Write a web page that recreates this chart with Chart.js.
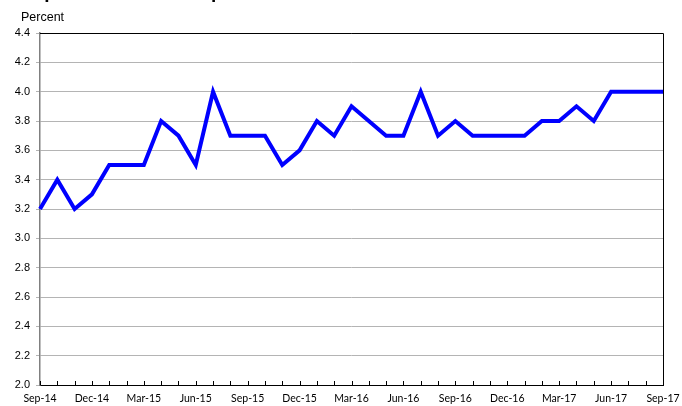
<!DOCTYPE html>
<html lang="en">
<head>
  <meta charset="UTF-8" />
  <title>September 2014 – September 2017</title>
  <script src="https://cdn.jsdelivr.net/npm/chart.js"></script>
  <style>
    html, body { margin: 0; padding: 0; background: #fff; overflow: hidden; }
    .wrap { position: relative; width: 682px; height: 406px; }
    .title {
      position: absolute; left: 21px; top: -19px;
      font: bold 19px "Liberation Sans", Arial, sans-serif; line-height: 22px;
      color: #000; white-space: nowrap;
    }
    .unit {
      position: absolute; left: 21px; top: 10px;
      font: 12.5px "Liberation Sans", Arial, sans-serif; color: #000;
    }
    canvas { position: absolute; left: 0; top: 0; }
  </style>
</head>
<body>
  <div class="wrap">
    <canvas id="rateChart" width="682" height="406"></canvas>
    <div class="title">September 2014 – September 2017</div>
    <div class="unit">Percent</div>
  </div>

  <script>
    // Monthly observations, Sep-14 to Sep-17
    const months = [
      "Sep-14","Oct-14","Nov-14","Dec-14","Jan-15","Feb-15","Mar-15","Apr-15","May-15",
      "Jun-15","Jul-15","Aug-15","Sep-15","Oct-15","Nov-15","Dec-15","Jan-16","Feb-16",
      "Mar-16","Apr-16","May-16","Jun-16","Jul-16","Aug-16","Sep-16","Oct-16","Nov-16",
      "Dec-16","Jan-17","Feb-17","Mar-17","Apr-17","May-17","Jun-17","Jul-17","Aug-17",
      "Sep-17"
    ];

    const percent = [
      3.2, 3.4, 3.2, 3.3, 3.5, 3.5, 3.5, 3.8, 3.7,
      3.5, 4.0, 3.7, 3.7, 3.7, 3.5, 3.6, 3.8, 3.7,
      3.9, 3.8, 3.7, 3.7, 4.0, 3.7, 3.8, 3.7, 3.7,
      3.7, 3.7, 3.8, 3.8, 3.9, 3.8, 4.0, 4.0, 4.0,
      4.0
    ];

    // only every third month gets a label
    const labelEvery = 3;

    // frame on top/right plus small inward ticks on the x axis
    const frame = {
      id: "frame",
      afterDraw(chart) {
        const { ctx, chartArea: a } = chart;
        const x = chart.scales.x;
        ctx.save();
        ctx.strokeStyle = "#000";
        ctx.lineWidth = 1;
        ctx.beginPath();
        ctx.moveTo(a.left, a.top + 0.5);
        ctx.lineTo(a.right + 0.5, a.top + 0.5);
        ctx.lineTo(a.right + 0.5, a.bottom);
        ctx.stroke();
        ctx.beginPath();
        months.forEach((m, i) => {
          const px = Math.round(x.getPixelForValue(i)) + 0.5;
          ctx.moveTo(px, a.bottom);
          ctx.lineTo(px, a.bottom - 4);
        });
        ctx.stroke();
        ctx.restore();
      }
    };

    new Chart(document.getElementById("rateChart"), {
      type: "line",
      data: {
        labels: months,
        datasets: [{
          data: percent,
          borderColor: "#0000ff",
          borderWidth: 4,
          pointRadius: 0,
          tension: 0,
          fill: false
        }]
      },
      options: {
        responsive: false,
        animation: false,
        devicePixelRatio: 1,
        layout: { padding: { top: 33, right: 19, left: 0, bottom: 0 } },
        plugins: {
          legend: { display: false },
          tooltip: { enabled: false }
        },
        scales: {
          x: {
            offset: false,
            afterFit: s => { s.height = 21; s.paddingLeft = 0; s.paddingRight = 0; },
            grid: { display: false, drawTicks: false },
            border: { color: "#000", width: 1 },
            ticks: {
              autoSkip: false,
              maxRotation: 0,
              padding: 7,
              color: "#000",
              font: { family: "Lato", size: 10.5 },
              callback: (v, i) => (i % labelEvery === 0 ? months[i] : "")
            }
          },
          y: {
            min: 2.0,
            max: 4.4,
            afterFit: s => { s.width = 40; s.paddingTop = 0; s.paddingBottom = 0; },
            border: { color: "#808080", width: 1.5 },
            grid: { color: "#b4b4b4", lineWidth: 1, tickLength: 4 },
            ticks: {
              stepSize: 0.2,
              padding: 6,
              color: "#000",
              font: { family: "Liberation Sans", size: 11 },
              callback: v => Number(v).toFixed(1)
            }
          }
        }
      },
      plugins: [frame]
    });
  </script>
</body>
</html>
